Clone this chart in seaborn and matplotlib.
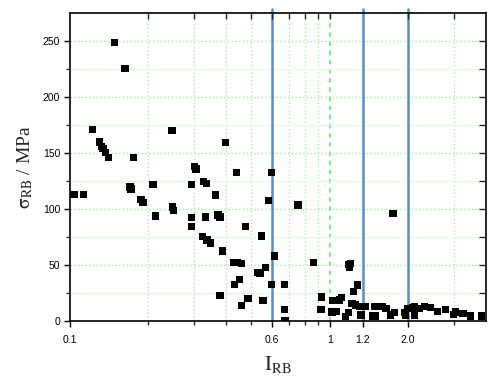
import matplotlib
matplotlib.use("Agg")
import matplotlib.pyplot as plt
import seaborn as sns
import pandas as pd
from matplotlib.ticker import FixedLocator, NullFormatter, FixedFormatter

# ---- data ----
i_rb = [0.1036, 0.113, 0.122, 0.1297, 0.1324, 0.134, 0.1367, 0.141, 0.148, 0.163,
        0.170, 0.172, 0.176, 0.1875, 0.191, 0.209, 0.2136, 0.247, 0.248, 0.250,
        0.294, 0.294, 0.293, 0.302, 0.306, 0.327, 0.335, 0.332, 0.323, 0.337,
        0.348, 0.363, 0.372, 0.378, 0.386, 0.378, 0.398, 0.427, 0.44, 0.458,
        0.449, 0.431, 0.438, 0.458, 0.474, 0.485, 0.53, 0.539, 0.546, 0.554,
        0.567, 0.581, 0.598, 0.598, 0.614, 0.671, 0.671, 0.673, 0.755, 0.866,
        0.929, 0.925, 1.027, 1.02, 1.06, 1.09, 1.11, 1.15, 1.18, 1.185,
        1.2, 1.195, 1.234, 1.278, 1.22, 1.26, 1.30, 1.32, 1.375, 1.467,
        1.5, 1.49, 1.55, 1.60, 1.65, 1.72, 1.778, 1.752, 1.94, 1.96,
        1.99, 2.08, 2.12, 2.12, 2.22, 2.32, 2.44, 2.60, 2.79, 3.0,
        3.05, 3.26, 3.49, 3.85]
sigma_rb = [113, 113, 171, 160, 156, 154, 151, 146, 249, 226,
            120, 118, 146, 108.5, 106, 122, 94, 170.5, 102, 99,
            122, 92.7, 84.6, 138, 136, 125, 123, 93, 75.7, 72.7,
            69.8, 112.7, 94.8, 93, 62.9, 22.9, 159.5, 52.4, 52.4, 51.5,
            37.6, 32.7, 133, 14.3, 84.6, 20.6, 43.8, 43, 76.3, 18.8,
            48.3, 107.6, 133, 32.7, 58.4, 32.7, 10.7, 0.5, 103.8, 52.4,
            21.7, 10.7, 18.4, 8.3, 8.6, 19, 21, 4.5, 7.7, 51,
            51.5, 48, 26.5, 32.5, 16, 14.6, 13, 5.6, 13, 4.7,
            4.7, 13, 13, 13, 11.6, 5.6, 7.7, 96, 8, 5,
            11.6, 12.2, 13, 5.6, 11.6, 13, 12.5, 8.6, 10.7, 6.3,
            8.3, 7.2, 4.7, 4.7]

x_tick_pos = [0.1, 0.6, 1, 1.34, 2.0]
x_tick_labels = ["0.1", "0.6", "1", "1.2", "2.0"]
x_minor = [0.2, 0.3, 0.4, 0.5, 0.7, 0.8, 0.9, 3]
x_grid = [0.2, 0.3, 0.4, 0.5, 0.6, 0.7, 0.8, 0.9, 2, 3]
x_top_ticks = [0.2, 0.3, 0.4, 0.5, 0.6, 0.7, 0.8, 0.9, 1, 2, 3]
blue_lines = [0.6, 1.34, 2.0]
y_major = [0, 50, 100, 150, 200, 250]
y_minor = [25, 75, 125, 175, 225]

df = pd.DataFrame({"I_RB": i_rb, "sigma_RB": sigma_rb})

sns.set_style("white")
plt.rcParams["font.family"] = ["Liberation Sans", "DejaVu Sans"]
plt.rcParams["mathtext.fontset"] = "stix"

fig = plt.figure(figsize=(5.01, 3.89), dpi=100)
ax = fig.add_axes([70/501, 1-321.3/389, (486-70)/501, (321.3-13.3)/389])

ax.set_xscale("log")
ax.set_xlim(0.1, 4)
ax.set_ylim(0, 275)

# grid
for xv in x_grid:
    ax.axvline(xv, color="#a0eea0", lw=0.9, ls=(0, (1, 2)), zorder=0)
ax.axvline(1, color="#55ee55", lw=1.1, ls=(0, (3, 3)), zorder=0)
for yv in y_major[1:]:
    ax.axhline(yv, color="#95ea95", lw=0.9, ls=(0, (1, 2)), zorder=0)
for yv in y_minor:
    ax.axhline(yv, color="#e2fae2", lw=0.9, zorder=0)

for xv in blue_lines:
    ax.axvline(xv, ymin=0, ymax=1.013, color="#5b8bc9", lw=1.8, zorder=1, clip_on=False)

sns.scatterplot(data=df, x="I_RB", y="sigma_RB", ax=ax, marker="s", s=28,
                color="black", edgecolor="none", zorder=3, legend=False)

ax.xaxis.set_major_locator(FixedLocator(x_tick_pos))
ax.xaxis.set_major_formatter(FixedFormatter(x_tick_labels))
ax.xaxis.set_minor_locator(FixedLocator(x_minor))
ax.xaxis.set_minor_formatter(NullFormatter())
ax.yaxis.set_major_locator(FixedLocator(y_major))
ax.yaxis.set_minor_locator(FixedLocator(y_minor))

ax.tick_params(axis="both", which="major", direction="out", length=4, width=1,
               labelsize=7.5, colors="black", pad=3)
ax.tick_params(axis="both", which="minor", direction="out", length=3, width=1)
ax.tick_params(axis="x", which="major", pad=6)

for sp in ax.spines.values():
    sp.set_color("black")
    sp.set_linewidth(1.2)

# top and right inward ticks
axt = ax.twiny()
axt.set_xscale("log")
axt.set_xlim(ax.get_xlim())
axt.xaxis.set_major_locator(FixedLocator(x_top_ticks))
axt.xaxis.set_minor_locator(FixedLocator([]))
axt.xaxis.set_major_formatter(NullFormatter())
axt.tick_params(axis="x", direction="in", length=4, width=1)
axr = ax.twinx()
axr.set_ylim(ax.get_ylim())
axr.yaxis.set_major_locator(FixedLocator(y_major[1:] + y_minor))
axr.yaxis.set_major_formatter(NullFormatter())
axr.tick_params(axis="y", direction="in", length=5, width=1)
for a in (axt, axr):
    for sp in a.spines.values():
        sp.set_visible(False)

ax.set_xlabel(r"$\mathrm{I_{RB}}$", fontsize=15, labelpad=6)
ax.set_ylabel(r"$\mathrm{\sigma_{RB}}$ / MPa", fontsize=14, family="Liberation Serif", labelpad=6)

fig.savefig("out.png", dpi=100)
